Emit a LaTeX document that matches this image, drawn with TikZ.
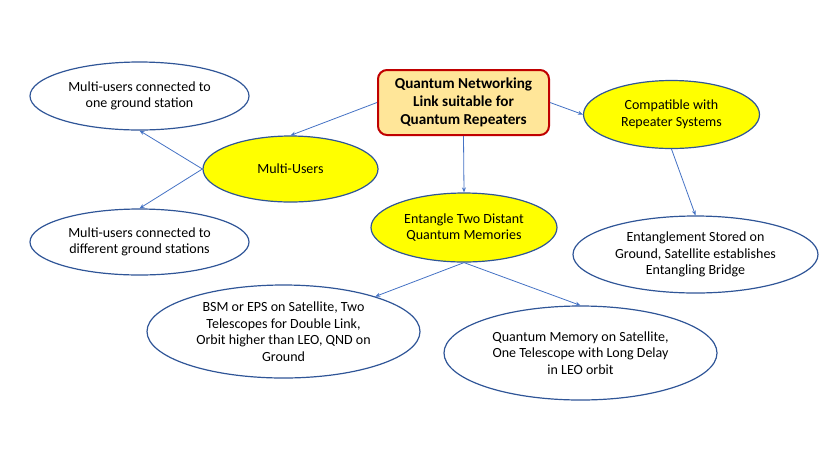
\documentclass[tikz,border=0pt]{standalone}
\usepackage{fontspec}
\setmainfont{Carlito}
\usetikzlibrary{shapes.geometric,arrows.meta}
\definecolor{ebord}{HTML}{2F5597}
\definecolor{arr}{HTML}{4472C4}
\definecolor{boxfill}{HTML}{FFE699}
\definecolor{boxbord}{HTML}{C00000}
\definecolor{yel}{HTML}{FFFF00}
\tikzset{
  ell/.style={ellipse, draw=ebord, line width=1.2pt, inner sep=0pt, align=center,
    font=\fontsize{14}{16.5}\selectfont},
  yell/.style={ell, fill=yel},
  mainbox/.style={draw=boxbord, fill=boxfill, line width=2pt, rounded corners=9pt,
    align=center, inner sep=0pt, font=\fontsize{15.2}{18}\selectfont\bfseries},
  conn/.style={draw=arr, line width=0.8pt, -{Stealth[length=5pt,width=4pt]}}
}
\begin{document}
\begin{tikzpicture}[x=1pt,y=-1pt]
\useasboundingbox (0,0) rectangle (830,467);
\node[mainbox, minimum width=171pt, minimum height=65pt] (main) at (463.5,102.5)
  {Quantum Networking\\Link suitable for\\Quantum Repeaters};
\node[ell, minimum width=219pt, minimum height=68pt] (one) at (139.5,96)
  {Multi-users connected to\\one ground station};
\node[yell, minimum width=175pt, minimum height=66pt] (mu) at (290.5,169)
  {Multi-Users};
\node[ell, minimum width=219pt, minimum height=66pt] (diff) at (139.5,242)
  {Multi-users connected to\\different ground stations};
\node[yell, minimum width=176pt, minimum height=68pt] (comp) at (671.5,114.5)
  {Compatible with\\Repeater Systems};
\node[ell, minimum width=245pt, minimum height=77pt] (stored) at (695.5,254.5)
  {Entanglement Stored on\\Ground, Satellite establishes\\Entangling Bridge};
\node[yell, minimum width=186pt, minimum height=69pt] (ent) at (464,227.5)
  {Entangle Two Distant\\Quantum Memories};
\node[ell, minimum width=273pt, minimum height=93pt] (bsm) at (283.5,331.5)
  {BSM or EPS on Satellite, Two\\Telescopes for Double Link,\\Orbit higher than LEO, QND on\\Ground};
\node[ell, minimum width=273pt, minimum height=94pt] (qm) at (580.5,353)
  {Quantum Memory on Satellite,\\One Telescope with Long Delay\\in LEO orbit};
\draw[conn] (main.west) -- (mu.north);
\draw[conn] (mu.west) -- (one.south);
\draw[conn] (mu.west) -- (diff.north);
\draw[conn] (main.south) -- (ent.north);
\draw[conn] (main.east) -- (comp.west);
\draw[conn] (comp.south) -- (stored.north);
\draw[conn] (ent.south) -- (bsm);
\draw[conn] (ent.south) -- (qm.north);
\end{tikzpicture}
\end{document}
